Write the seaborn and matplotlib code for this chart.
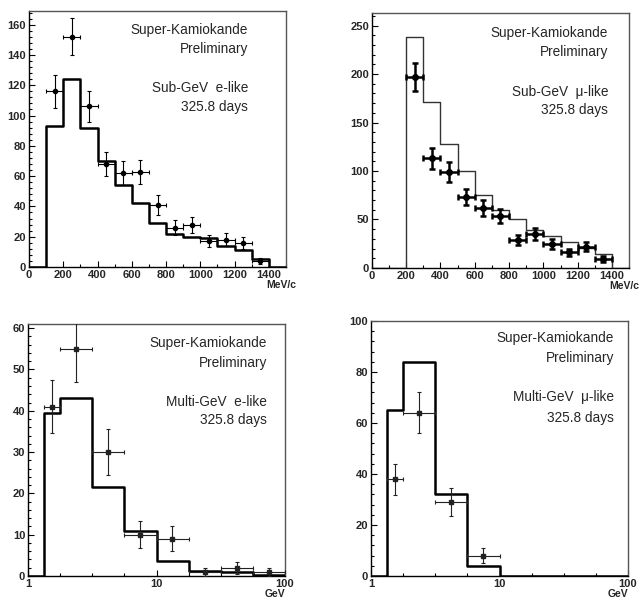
import numpy as np
import matplotlib.pyplot as plt
import matplotlib.ticker as mticker
import seaborn as sns

# Sub-GeV samples: momentum bins in MeV/c (outer bins are empty)
sub_edges = [0, 100, 200, 300, 400, 500, 600, 700, 800, 900, 1000, 1100, 1200, 1300, 1400, 1500]
sub_e_mc = [0, 93, 124, 92, 70, 54, 42, 29, 22, 20, 19, 14, 11, 5, 0]
sub_e_x = [150, 250, 350, 450, 550, 650, 750, 850, 950, 1050, 1150, 1250, 1350]
sub_e_y = [116, 152, 106, 68, 62, 63, 41, 26, 28, 17, 18, 16, 4]
sub_e_err = [10.8, 12.3, 10.3, 8.2, 7.9, 7.9, 6.4, 5.1, 5.3, 4.1, 4.2, 4.0, 2.0]

sub_mu_mc = [0, 0, 238, 171, 128, 100, 75, 60, 51, 39, 33, 27, 21, 14, 0]
sub_mu_x = [250, 350, 450, 550, 650, 750, 850, 950, 1050, 1150, 1250, 1350]
sub_mu_y = [197, 113, 99, 73, 62, 54, 29, 35, 25, 16, 22, 9]
sub_mu_err = [14.0, 10.6, 9.9, 8.5, 7.9, 7.3, 5.4, 5.9, 5.0, 4.0, 4.7, 3.0]

# Multi-GeV samples: visible energy bins in GeV
multi_edges = [1, 1.33, 1.78, 3.16, 5.62, 10, 17.8, 31.6, 56.2, 100]
multi_e_mc = [0, 39.5, 43, 21.5, 10.8, 3.6, 1.3, 0.9, 0.3]
multi_e_x = [1.54, 2.37, 4.22, 7.5, 13.3, 23.7, 42.2, 75]
multi_e_y = [41, 55, 30, 10, 9, 1, 2, 1]
multi_e_err = [6.4, 8.0, 5.5, 3.2, 3.0, 1.0, 1.4, 1.0]

multi_mu_mc = [0, 65, 84, 32, 4, 0, 0, 0, 0]
multi_mu_x = [1.54, 2.37, 4.22, 7.5]
multi_mu_y = [38, 64, 29, 8]
multi_mu_err = [6.1, 8.0, 5.4, 2.9]

sns.set_style('white')
plt.rcParams['font.family'] = ['Liberation Sans', 'DejaVu Sans']

fig = plt.figure(figsize=(6.4, 6.06), dpi=100)


def setup(ax, xlim, ylim, ymaj, ymin, unit, log=False):
    if log:
        ax.set_xscale('log')
    ax.set_xlim(*xlim)
    ax.set_ylim(*ylim)
    for s in ['left', 'bottom']:
        ax.spines[s].set_color('black')
        ax.spines[s].set_linewidth(1.0)
    for s in ['top', 'right']:
        ax.spines[s].set_color('#555555')
        ax.spines[s].set_linewidth(1.0)
    ax.yaxis.set_major_locator(mticker.MultipleLocator(ymaj))
    ax.yaxis.set_minor_locator(mticker.MultipleLocator(ymin))
    if log:
        ax.xaxis.set_major_locator(mticker.FixedLocator([1, 10, 100]))
        ax.xaxis.set_major_formatter(mticker.FixedFormatter(['1', '10', '100']))
        ax.xaxis.set_minor_locator(mticker.FixedLocator([1.78, 3.16, 5.62, 17.8, 31.6, 56.2]))
        ax.xaxis.set_minor_formatter(mticker.NullFormatter())
    else:
        ax.xaxis.set_major_locator(mticker.MultipleLocator(200))
        ax.xaxis.set_minor_locator(mticker.MultipleLocator(100))
    ax.tick_params(which='both', direction='in', left=True, bottom=True,
                   top=False, right=False, labelsize=8, pad=2, color='black')
    ax.tick_params(which='major', length=4, width=0.8)
    ax.tick_params(which='minor', length=2, width=0.8)
    for lab in ax.get_xticklabels() + ax.get_yticklabels():
        lab.set_fontweight('bold')
    ax.set_xlabel(unit, fontsize=7.5, fontweight='bold', loc='right')
    ax.xaxis.set_label_coords(1.04 if not log else 1.0, -0.052)
    ax.set_ylabel('')


def labels(ax, xr, ys, title):
    lines = ['Super-Kamiokande', 'Preliminary', title, '325.8 days']
    for s, y in zip(lines, ys):
        ax.text(xr, y, s, transform=ax.transAxes, ha='right', va='center', fontsize=9.8)


def hist(ax, edges, vals, lw, color):
    sns.lineplot(x=edges, y=list(vals) + [vals[-1]], ax=ax, drawstyle='steps-post',
                 estimator=None, sort=False, color=color, linewidth=lw, zorder=3)


def log_xerr(x, edges):
    lo = np.array(edges[1:1 + len(x)])
    hi = np.array(edges[2:2 + len(x)])
    x = np.array(x)
    return [x - lo, hi - x]


# panel 1: Sub-GeV e-like
ax1 = fig.add_axes([0.0453, 0.5594, 0.4016, 0.4224])
hist(ax1, sub_edges, sub_e_mc, 1.8, 'black')
ax1.errorbar(sub_e_x, sub_e_y, yerr=sub_e_err, xerr=50, fmt='o', ms=3, color='black',
             lw=0.8, capsize=1.5, capthick=0.8, zorder=4)
setup(ax1, (0, 1500), (0, 169), 20, 4, 'MeV/c')
labels(ax1, 0.852, [0.926, 0.852, 0.70, 0.625], 'Sub-GeV  e-like')

# panel 2: Sub-GeV mu-like
ax2 = fig.add_axes([0.581, 0.5578, 0.402, 0.4208])
hist(ax2, sub_edges, sub_mu_mc, 1.0, '#333333')
ax2.errorbar(sub_mu_x, sub_mu_y, yerr=sub_mu_err, xerr=50, fmt='o', ms=4, color='black',
             lw=1.8, capsize=2, capthick=1.8, zorder=4)
setup(ax2, (0, 1500), (0, 263), 50, 10, 'MeV/c')
labels(ax2, 0.918, [0.922, 0.847, 0.69, 0.62], 'Sub-GeV  \u03bc-like')

# panel 3: Multi-GeV e-like
ax3 = fig.add_axes([0.04375, 0.0495, 0.4016, 0.4158])
ax3.set_xscale('log')
hist(ax3, multi_edges, multi_e_mc, 1.8, 'black')
ax3.errorbar(multi_e_x, multi_e_y, yerr=multi_e_err, xerr=log_xerr(multi_e_x, multi_edges),
             fmt='s', ms=2.5, color='#222222', lw=0.8, capsize=1.5, capthick=0.8, zorder=4)
setup(ax3, (1, 100), (0, 61), 10, 2, 'GeV', log=True)
labels(ax3, 0.93, [0.925, 0.845, 0.69, 0.62], 'Multi-GeV  e-like')

# panel 4: Multi-GeV mu-like
ax4 = fig.add_axes([0.5797, 0.0495, 0.4016, 0.4208])
ax4.set_xscale('log')
hist(ax4, multi_edges, multi_mu_mc, 1.8, 'black')
ax4.errorbar(multi_mu_x, multi_mu_y, yerr=multi_mu_err, xerr=log_xerr(multi_mu_x, multi_edges),
             fmt='s', ms=2.5, color='#222222', lw=0.8, capsize=1.5, capthick=0.8, zorder=4)
setup(ax4, (1, 100), (0, 100), 20, 4, 'GeV', log=True)
labels(ax4, 0.945, [0.933, 0.855, 0.70, 0.62], 'Multi-GeV  \u03bc-like')

fig.savefig('out.png', dpi=100)
